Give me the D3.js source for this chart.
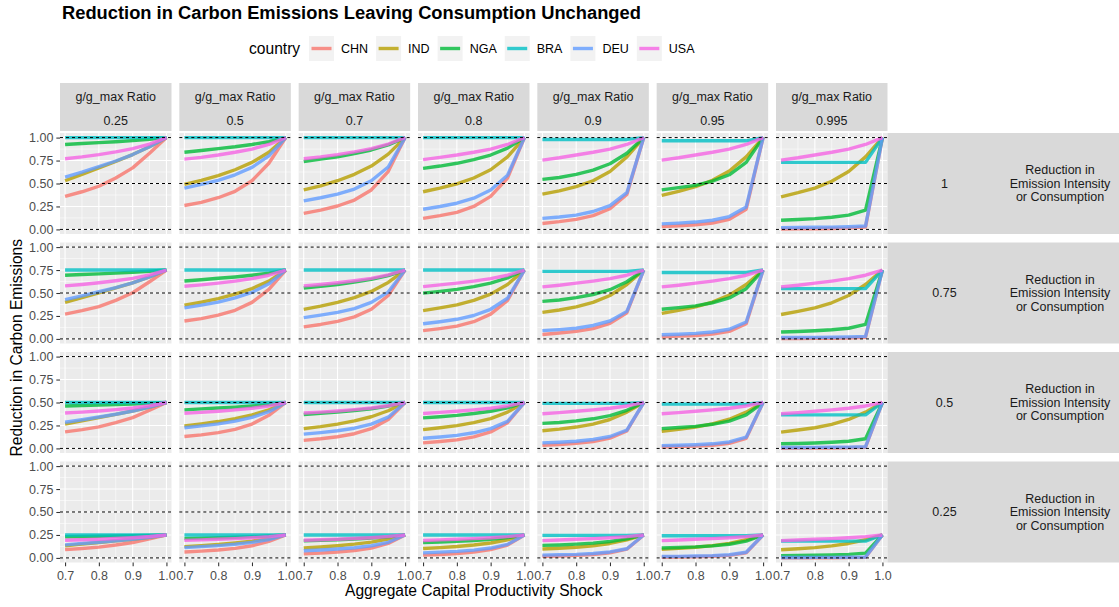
<!DOCTYPE html>
<html><head><meta charset="utf-8">
<script src="https://cdn.jsdelivr.net/npm/d3@7"></script>
<style>
body{margin:0;background:#fff}
svg{display:block}
text{font-family:"Liberation Sans",Arial,Helvetica,sans-serif}
</style>
</head><body>
<svg id="chart" width="1119" height="607"></svg>
<script>
// ---------------- data ----------------
const countries = ["CHN","IND","NGA","BRA","DEU","USA"];
const colors = ["#F8766D","#B79F00","#00BA38","#00BFC4","#619CFF","#F564E3"];
const ratios = ["0.25","0.5","0.7","0.8","0.9","0.95","0.995"];
const reductionLabels = ["1","0.75","0.5","0.25"];
const reductionValues = [1,0.75,0.5,0.25];
const shocks = [0.7,0.75,0.8,0.85,0.9,0.95,1.0];
const xTicks = [0.7,0.8,0.9,1.0];
const xTickLabels = ["0.7","0.8","0.9","1.0"];
const yTicks = [0,0.25,0.5,0.75,1];
const yTickLabels = ["0.00","0.25","0.50","0.75","1.00"];
const refLines = [0,0.5,1];
// share of the full reduction reached at each shock; one row per g/g_max ratio
// (plotted value = share x reduction of the facet row)
const CHN = [
  [0.36,0.41,0.47,0.56,0.67,0.83,1.0],
  [0.26,0.295,0.345,0.415,0.53,0.72,1.0],
  [0.175,0.21,0.255,0.32,0.43,0.63,1.0],
  [0.12,0.15,0.185,0.25,0.36,0.56,1.0],
  [0.065,0.085,0.11,0.15,0.225,0.38,1.0],
  [0.03,0.04,0.05,0.07,0.11,0.22,1.0],
  [0.005,0.006,0.008,0.01,0.014,0.025,1.0]
];
const IND = [
  [0.53,0.6,0.67,0.74,0.815,0.9,1.0],
  [0.49,0.535,0.585,0.65,0.73,0.84,1.0],
  [0.43,0.475,0.53,0.6,0.69,0.82,1.0],
  [0.41,0.45,0.495,0.56,0.65,0.79,1.0],
  [0.385,0.42,0.465,0.53,0.63,0.79,1.0],
  [0.37,0.415,0.465,0.535,0.635,0.79,1.0],
  [0.355,0.4,0.45,0.525,0.63,0.79,1.0]
];
const NGA = [
  [0.925,0.935,0.945,0.955,0.967,0.982,1.0],
  [0.84,0.86,0.88,0.9,0.925,0.955,1.0],
  [0.74,0.765,0.79,0.825,0.865,0.92,1.0],
  [0.665,0.69,0.72,0.76,0.81,0.885,1.0],
  [0.545,0.565,0.6,0.645,0.715,0.83,1.0],
  [0.43,0.455,0.48,0.525,0.595,0.73,1.0],
  [0.1,0.108,0.118,0.133,0.155,0.21,1.0]
];
const BRA = [
  [1,1,1,1,1,1,1],
  [1,1,1,1,1,1,1],
  [1,1,1,1,1,1,1],
  [1,1,1,1,1,1,1],
  [0.98,0.98,0.98,0.98,0.98,0.98,1.0],
  [0.965,0.965,0.965,0.965,0.965,0.965,1.0],
  [0.73,0.73,0.73,0.73,0.73,0.73,1.0]
];
const DEU = [
  [0.57,0.625,0.685,0.745,0.815,0.9,1.0],
  [0.45,0.49,0.535,0.595,0.675,0.8,1.0],
  [0.31,0.345,0.385,0.44,0.53,0.68,1.0],
  [0.22,0.25,0.285,0.34,0.43,0.59,1.0],
  [0.12,0.135,0.155,0.195,0.26,0.4,1.0],
  [0.06,0.068,0.08,0.1,0.14,0.245,1.0],
  [0.02,0.021,0.023,0.025,0.029,0.037,1.0]
];
const USA = [
  [0.77,0.79,0.815,0.845,0.88,0.93,1.0],
  [0.765,0.785,0.81,0.84,0.875,0.925,1.0],
  [0.77,0.79,0.815,0.845,0.88,0.93,1.0],
  [0.76,0.785,0.81,0.84,0.875,0.925,1.0],
  [0.755,0.78,0.81,0.84,0.875,0.925,1.0],
  [0.755,0.78,0.81,0.84,0.875,0.925,1.0],
  [0.755,0.78,0.81,0.84,0.875,0.925,1.0]
];
const seriesByCountry = {CHN, IND, NGA, BRA, DEU, USA};

// ---------------- layout ----------------
const svg = d3.select("#chart");
const W = 1119, H = 607;
const FS = 12.5, FT = 15.6;
const colBand = d3.scaleBand().domain(ratios).range([60, 887.5]).paddingInner(0.0656);
const rowBand = d3.scaleBand().domain(reductionLabels).range([133, 562.5]).paddingInner(0.0776);
const pw = colBand.bandwidth(), ph = rowBand.bandwidth();
const x = d3.scaleLinear().domain([0.685, 1.015]).range([0, pw]);
const y = d3.scaleLinear().domain([-0.05, 1.05]).range([ph, 0]);
const color = d3.scaleOrdinal().domain(countries).range(colors);
const line = d3.line().x(d => x(d[0])).y(d => y(d[1]));

const xMinor = [0.75,0.85,0.95];
const yMinor = [0.125,0.375,0.625,0.875];

// title
const title = svg.append("text").attr("x", 62).attr("y", 18.5)
  .attr("font-size", 17.6).attr("font-weight", "bold").attr("fill", "#000")
  .text("Reduction in Carbon Emissions Leaving Consumption Unchanged");
{
  const len = title.node().getComputedTextLength();
  title.attr("font-size", 17.6 * 579 / len);
}

// legend
const lg = svg.append("g");
lg.append("text").attr("x", 249).attr("y", 54).attr("font-size", FT).attr("fill", "#000").text("country");
let lx = 309;
countries.forEach((c, i) => {
  lg.append("rect").attr("x", lx).attr("y", 36).attr("width", 25).attr("height", 25).attr("fill", "#F2F2F2");
  lg.append("line").attr("x1", lx + 2.5).attr("x2", lx + 22.5).attr("y1", 48.5).attr("y2", 48.5)
    .attr("stroke", color(c)).attr("stroke-width", 3.4).attr("stroke-opacity", 0.8);
  const t = lg.append("text").attr("x", lx + 32).attr("y", 53).attr("font-size", FS).attr("fill", "#000").text(c);
  lx = lx + 32 + t.node().getComputedTextLength() + 8;
});

// panels
ratios.forEach((r, ci) => {
  const px = colBand(r);
  // top strip
  svg.append("rect").attr("x", px).attr("y", 83).attr("width", pw).attr("height", 48).attr("fill", "#D9D9D9");
  svg.append("text").attr("x", px + pw / 2).attr("y", 101.4).attr("text-anchor", "middle")
    .attr("font-size", FS).attr("fill", "#1A1A1A").text("g/g_max Ratio");
  svg.append("text").attr("x", px + pw / 2).attr("y", 125.4).attr("text-anchor", "middle")
    .attr("font-size", FS).attr("fill", "#1A1A1A").text(r);

  reductionLabels.forEach((rl, ri) => {
    const py = rowBand(rl);
    const g = svg.append("g").attr("transform", `translate(${px},${py})`);
    g.append("rect").attr("width", pw).attr("height", ph).attr("fill", "#EBEBEB");
    // minor grid
    g.selectAll(".ymin").data(yMinor).enter().append("line")
      .attr("x1", 0).attr("x2", pw).attr("y1", d => y(d)).attr("y2", d => y(d))
      .attr("stroke", "#fff").attr("stroke-width", 0.55);
    g.selectAll(".xmin").data(xMinor).enter().append("line")
      .attr("y1", 0).attr("y2", ph).attr("x1", d => x(d)).attr("x2", d => x(d))
      .attr("stroke", "#fff").attr("stroke-width", 0.55);
    // major grid
    g.selectAll(".ymaj").data(yTicks).enter().append("line")
      .attr("x1", 0).attr("x2", pw).attr("y1", d => y(d)).attr("y2", d => y(d))
      .attr("stroke", "#fff").attr("stroke-width", 1.1);
    g.selectAll(".xmaj").data(xTicks).enter().append("line")
      .attr("y1", 0).attr("y2", ph).attr("x1", d => x(d)).attr("x2", d => x(d))
      .attr("stroke", "#fff").attr("stroke-width", 1.1);
    // series
    const red = reductionValues[ri];
    countries.forEach(c => {
      const pts = shocks.map((s, k) => [s, seriesByCountry[c][ci][k] * red]);
      g.append("path").attr("d", line(pts)).attr("fill", "none")
        .attr("stroke", color(c)).attr("stroke-width", 3.4).attr("stroke-opacity", 0.8)
        .attr("stroke-linejoin", "round");
    });
    // reference dashed lines
    g.selectAll(".ref").data(refLines).enter().append("line")
      .attr("x1", 0).attr("x2", pw).attr("y1", d => y(d)).attr("y2", d => y(d))
      .attr("stroke", "#000").attr("stroke-width", 1).attr("stroke-dasharray", "3,3");

    // y axis on first column
    if (ci === 0) {
      const ya = d3.axisLeft(y).tickValues(yTicks).tickFormat((d, i) => yTickLabels[i]).tickSize(3.67).tickPadding(2.9);
      const ag = svg.append("g").attr("transform", `translate(${px},${py})`).call(ya);
      ag.select(".domain").remove();
      ag.selectAll("line").attr("stroke", "#333333").attr("stroke-width", 1.07);
      ag.selectAll("text").attr("font-size", FS).attr("fill", "#4D4D4D").attr("font-family", null);
    }
    // x axis on bottom row
    if (ri === reductionLabels.length - 1) {
      const xa = d3.axisBottom(x).tickValues(xTicks).tickFormat((d, i) => xTickLabels[i]).tickSize(3.67).tickPadding(5);
      const ag = svg.append("g").attr("transform", `translate(${px},${py + ph})`).call(xa);
      ag.select(".domain").remove();
      ag.selectAll("line").attr("stroke", "#333333").attr("stroke-width", 1.07);
      ag.selectAll("text").attr("font-size", FS).attr("fill", "#4D4D4D").attr("font-family", null);
    }
  });
});

// right strips
reductionLabels.forEach(rl => {
  const py = rowBand(rl);
  const sx = colBand(ratios[ratios.length - 1]) + pw;
  svg.append("rect").attr("x", sx).attr("y", py).attr("width", W - sx).attr("height", ph).attr("fill", "#D9D9D9");
  const cy = py + ph / 2;
  svg.append("text").attr("x", 944.5).attr("y", cy + 4.4).attr("text-anchor", "middle")
    .attr("font-size", FS).attr("fill", "#1A1A1A").text(rl);
  const t = svg.append("text").attr("x", 1060).attr("y", cy + 4.4).attr("text-anchor", "middle")
    .attr("font-size", FS).attr("fill", "#1A1A1A");
  ["Reduction in", "Emission Intensity", "or Consumption"].forEach((s, i) => {
    t.append("tspan").attr("x", 1060).attr("y", cy + 4.4 + (i - 1) * 13.5).text(s);
  });
});

// axis titles
svg.append("text").attr("x", (60 + 887.5) / 2).attr("y", 596).attr("text-anchor", "middle")
  .attr("font-size", FT).attr("fill", "#000").text("Aggregate Capital Productivity Shock");
svg.append("text").attr("transform", `translate(22,${(133 + 562.5) / 2}) rotate(-90)`).attr("text-anchor", "middle")
  .attr("font-size", FT).attr("fill", "#000").text("Reduction in Carbon Emissions");
</script>
</body></html>
